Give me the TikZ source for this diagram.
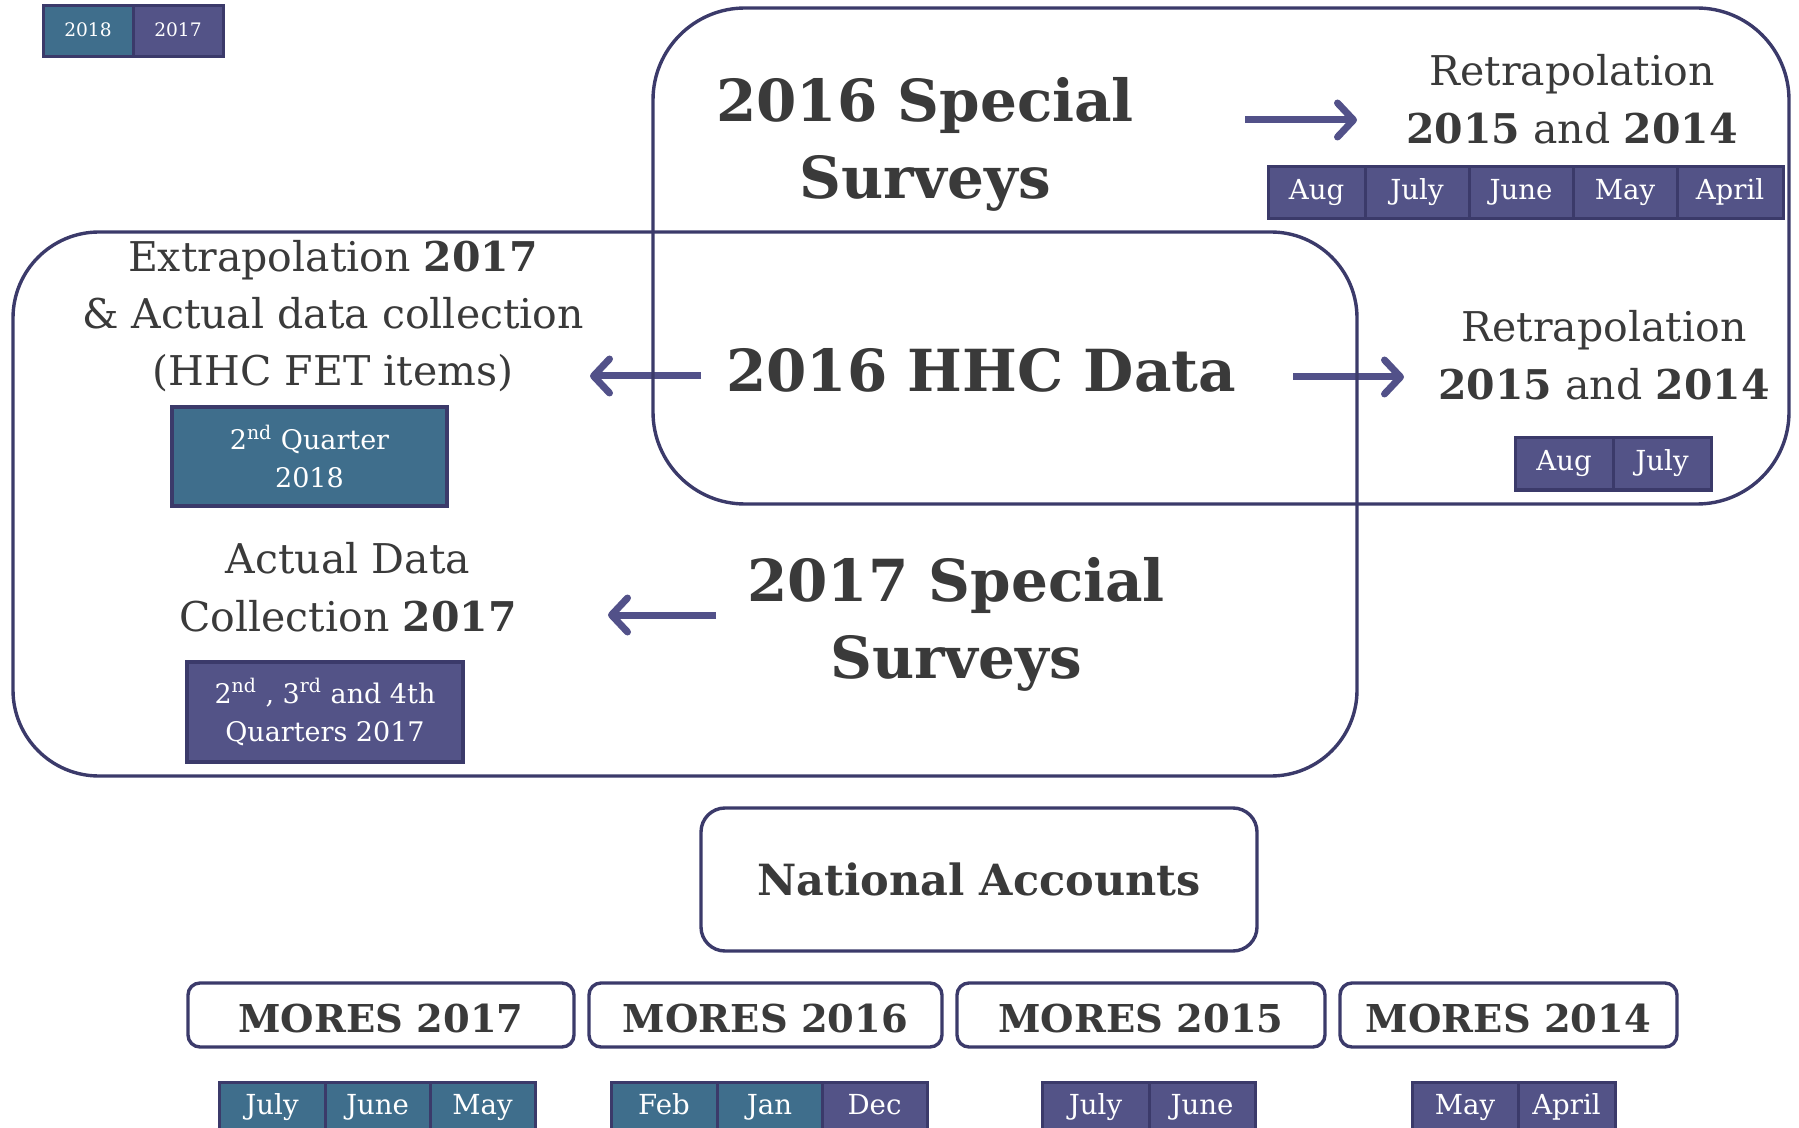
\documentclass[tikz,border=0pt]{standalone}
\usepackage{fontspec}
\setmainfont{DejaVu Serif}
\usetikzlibrary{arrows.meta}
\definecolor{navy}{HTML}{3B3A6A}
\definecolor{tealc}{HTML}{3F6E8C}
\definecolor{purp}{HTML}{535387}
\definecolor{arrc}{HTML}{525189}
\definecolor{txt}{HTML}{3A3A3A}
\newcommand\mcell[7]{\node[#1, minimum width=#5*0.5pt, minimum height=#6*0.5pt] (#2) at (#3,#4) {#7};}
\begin{document}
\begin{tikzpicture}[x=0.5pt,y=-0.5pt,
  cell/.style={draw=navy, line width=1.5pt, text=white, inner sep=0pt, outer sep=0pt, anchor=north west,
    font=\fontsize{13.8}{16}\selectfont, text height=9.6pt, text depth=3pt},
  cT/.style={cell, fill=tealc},
  cP/.style={cell, fill=purp},
  lgT/.style={cT, font=\fontsize{9.3}{11}\selectfont, text height=6.5pt, text depth=1pt},
  lgP/.style={cP, font=\fontsize{9.3}{11}\selectfont, text height=6.5pt, text depth=1pt},
  bigbox/.style={draw=navy, line width=1.7pt, inner sep=0pt, outer sep=0pt, anchor=north west},
  ttl/.style={font=\bfseries\fontsize{29}{38.5}\selectfont, text=txt, align=center, inner sep=0pt},
  reg/.style={font=\fontsize{20.5}{29}\selectfont, text=txt, align=center, inner sep=0pt},
  qbox/.style={draw=navy, line width=1.6pt, text=white, align=center, inner sep=0pt, outer sep=0pt,
    anchor=north west, font=\fontsize{13.5}{19}\selectfont},
  nabox/.style={draw=navy, line width=1.7pt, rounded corners=12pt, inner sep=0pt, outer sep=0pt,
    anchor=north west, text=txt, font=\bfseries\fontsize{21.5}{26}\selectfont},
  mbox/.style={draw=navy, line width=1.7pt, rounded corners=6pt, inner sep=0pt, outer sep=0pt,
    anchor=north west, text=txt, minimum height=32pt, text height=17.4pt, text depth=0pt,
    font=\bfseries\fontsize{19.2}{23}\selectfont},
  arr/.style={draw=arrc, line width=3.5pt, -{Straight Barb[length=8pt, width=17pt, round]}}
]
\useasboundingbox (0,0) rectangle (1799,1128);
\clip (0,0) rectangle (1799,1128);

% arrow end points
\coordinate (a1s) at (1245,120);
\coordinate (a1e) at (1357,120);
\coordinate (a2s) at (701,376);
\coordinate (a2e) at (590,376);
\coordinate (a3s) at (1293,377);
\coordinate (a3e) at (1404,377);
\coordinate (a4s) at (716,615);
\coordinate (a4e) at (608,615);
\draw[arr] (a1s) -- (a1e);
\draw[arr] (a2s) -- (a2e);
\draw[arr] (a3s) -- (a3e);
\draw[arr] (a4s) -- (a4e);

% container boxes
\node[bigbox, rounded corners=46pt, minimum width=568pt, minimum height=248pt] (box16) at (653,8) {};
\node[bigbox, rounded corners=43pt, minimum width=672pt, minimum height=272pt] (boxhhc) at (13,232) {};

% legend
\mcell{lgT}{lg18}{43}{6}{90}{51}{2018}
\mcell{lgP}{lg17}{133}{6}{90}{51}{2017}

% titles
\node[ttl] (t16) at (925,144) {2016 Special\\Surveys};
\node[ttl] (hhc) at (981,370) {2016 HHC Data};
\node[ttl] (t17) at (956,624) {2017 Special\\Surveys};

% side texts
\node[reg] (r1) at (1572,99) {Retrapolation\\\textbf{2015} and \textbf{2014}};
\node[reg] (r2) at (1604,355) {Retrapolation\\\textbf{2015} and \textbf{2014}};
\node[reg, font=\fontsize{20.5}{28.5}\selectfont] (ex) at (333,316) {Extrapolation \textbf{2017}\\\& Actual data collection\\(HHC FET items)};
\node[reg] (ac) at (348,587) {Actual Data\\Collection \textbf{2017}};

% quarter boxes
\node[qbox, fill=tealc, minimum width=137.5pt, minimum height=49.5pt] (q18) at (172,407) {2\textsuperscript{nd} Quarter\\2018};
\node[qbox, fill=purp, minimum width=138pt, minimum height=50pt] (q17) at (187,662) {2\textsuperscript{nd} , 3\textsuperscript{rd} and 4th\\Quarters 2017};

% top month row
\mcell{cP}{m1}{1268}{167}{97}{52}{Aug}
\mcell{cP}{m2}{1365}{167}{104}{52}{July}
\mcell{cP}{m3}{1469}{167}{104}{52}{June}
\mcell{cP}{m4}{1573}{167}{104}{52}{May}
\mcell{cP}{m5}{1677}{167}{106}{52}{April}

% second month row
\mcell{cP}{n1}{1515}{438}{98}{52}{Aug}
\mcell{cP}{n2}{1613}{438}{98}{52}{July}

% National accounts
\node[nabox, minimum width=278pt, minimum height=71.5pt] (na) at (701,808) {National Accounts};

% MORES boxes
\node[mbox, minimum width=193pt] (mo17) at (188,983) {MORES 2017};
\node[mbox, minimum width=176.5pt] (mo16) at (589,983) {MORES 2016};
\node[mbox, minimum width=184pt] (mo15) at (957,983) {MORES 2015};
\node[mbox, minimum width=168.5pt] (mo14) at (1340,983) {MORES 2014};

% bottom month rows
\mcell{cT}{b1}{219}{1082}{106}{52}{July}
\mcell{cT}{b2}{325}{1082}{105}{52}{June}
\mcell{cT}{b3}{430}{1082}{105}{52}{May}
\mcell{cT}{b4}{611}{1082}{106}{52}{Feb}
\mcell{cT}{b5}{717}{1082}{105}{52}{Jan}
\mcell{cP}{b6}{822}{1082}{105}{52}{Dec}
\mcell{cP}{b7}{1042}{1082}{107}{52}{July}
\mcell{cP}{b8}{1149}{1082}{106}{52}{June}
\mcell{cP}{b9}{1412}{1082}{106}{52}{May}
\mcell{cP}{b10}{1518}{1082}{97}{52}{April}
\end{tikzpicture}
\end{document}
